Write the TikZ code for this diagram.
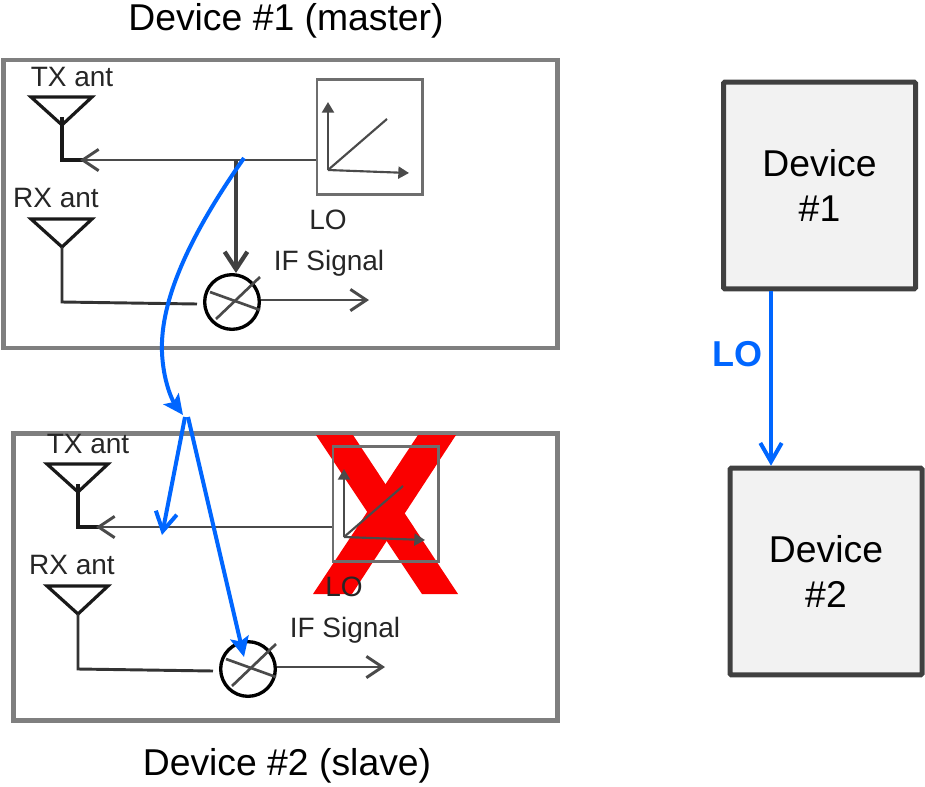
\documentclass[tikz,border=0pt]{standalone}
\usepackage{fontspec}
\setmainfont{Liberation Sans}
\usetikzlibrary{arrows.meta,calc}
\definecolor{framegray}{HTML}{7F7F7F}
\definecolor{wiregray}{HTML}{4A4A4A}
\definecolor{logray}{HTML}{6E6E6E}
\definecolor{boxfill}{HTML}{F2F2F2}
\definecolor{boxline}{HTML}{404040}
\definecolor{loblue}{HTML}{0066FF}
\definecolor{crossred}{HTML}{FA0000}
\tikzset{
  frame/.style={draw=framegray,line width=3.6pt},
  devbox/.style={draw=boxline,fill=boxfill,line width=3.75pt,rounded corners=1pt,minimum width=144pt,minimum height=155pt,inner sep=0pt,align=center,font=\fontsize{28}{34}\selectfont},
  biglabel/.style={inner sep=0pt,font=\fontsize{28}{34}\selectfont},
  smalllabel/.style={inner sep=0pt,text=black!85,font=\fontsize{21}{25}\selectfont},
  antenna/.style={draw=black!90,line width=2.4pt,line join=miter},
  wire/.style={draw=wiregray,line width=2.2pt},
  barb/.style={-{Straight Barb[length=12pt,width=16pt,line width=2.2pt]}},
  heavybarb/.style={-{Straight Barb[length=13pt,width=17pt,line width=3.2pt]}},
  loframe/.style={draw=logray,line width=2pt,minimum width=79pt,minimum height=86pt,inner sep=0pt},
  axis/.style={draw=wiregray,line width=1.6pt},
  axtip/.style={-{Triangle[length=8pt,width=9pt]}},
  mixer/.style={circle,draw=black,line width=2.5pt,minimum size=41pt,inner sep=0pt},
  blueline/.style={draw=loblue,line width=3pt},
  bluebarb/.style={-{Straight Barb[length=14pt,width=16pt,line width=3pt]}},
  bluetip/.style={-{Stealth[length=15pt,width=14pt,inset=3pt]}},
}
\newcommand{\rfchain}{%
  \node[smalllabel] (txlabel) at (72,77) {TX ant};
  \node[smalllabel] (rxlabel) at (56,198) {RX ant};
  \node[smalllabel] (lolabel) at (328,220) {LO};
  \node[smalllabel] (iflabel) at (329,263) {IF Signal};
  \node[loframe] (lobox) at (369.5,137) {};
  \node[mixer] (mix) at (232,302) {};
  \coordinate (txapex) at (62,125);
  \coordinate (txfeed) at (62,117);
  \coordinate (rxapex) at (62,247);
  \coordinate (split) at (236,160);
  \coordinate (txtip) at (80,160);
  \coordinate (iftip) at (369,300);
  \coordinate (origin) at (328,170);
  \draw[antenna] (31,97) -- (92,97) -- (txapex) -- cycle;
  \draw[antenna] (31,219) -- (92,219) -- (rxapex) -- cycle;
  \draw[antenna,line width=3pt] (txfeed) -- (txfeed |- txtip) -- ++(24,0);
  \draw[antenna,draw=black!80,line width=2.2pt] (rxapex) -- (rxapex |- mix) -- (197,304);
  \draw[wire,barb] (split -| lobox.west) -- (txtip);
  \draw[wire,barb] (mix.east) ++(0,-2) -- (iftip);
  \draw[axis,axtip] (origin) -- (328,102);
  \draw[axis,axtip] (origin) -- (409,173);
  \draw[axis] (origin) -- (387,119);
  \draw[wire,line width=2pt] (210,292) -- (260,310);
  \draw[wire,line width=2pt] (216,319) -- (260,277);
}
\begin{document}
\begin{tikzpicture}[x=0.75pt,y=-0.75pt]
\useasboundingbox (0,0) rectangle (925,786);
% titles
\node[biglabel] (title1) at (286,21) {Device \#1 (master)};
\node[biglabel] (title2) at (287,766) {Device \#2 (slave)};
% frames
\node[frame,minimum width=416pt,minimum height=216pt,inner sep=0pt] (dev1frame) at (280.5,204) {};
\node[frame,minimum width=408pt,minimum height=215pt,inner sep=0pt] (dev2frame) at (285.5,577) {};
% red cross
\fill[crossred] (316,435) -- (353,435) -- (458,594) -- (422,594) -- cycle;
\fill[crossred] (418,435) -- (456,435) -- (352,594) -- (313,594) -- cycle;
% device circuits
\begin{scope}[name prefix=a-]\rfchain
  \draw[wire,draw=black!75,line width=3.2pt,heavybarb] (split) -- (mix.north -| split);
\end{scope}
\begin{scope}[name prefix=b-,shift={(16,367)}]\rfchain\end{scope}
% blue LO feed
\coordinate (hop) at (183,415);
\coordinate (hopl) at (185,417);
\coordinate (hopr) at (188,417);
\coordinate (txhit) at (162,535);
\coordinate (mixhit) at (244,657);
\draw[blueline,bluetip] ($(a-split)+(8,-2)$) .. controls (190,235) and (160,300) .. (162,352) .. controls (163,380) and (172,400) .. (hop);
\draw[blueline,bluebarb] (hopl) -- (txhit);
\draw[blueline,bluetip] (hopr) -- (mixhit);
% block view
\node[devbox] (dev1) at (819.5,185.5) {Device\\\#1};
\node[devbox] (dev2) at (826,571.5) {Device\\\#2};
\draw[blueline,bluebarb] (dev1.south -| 771,0) -- (dev2.north -| 771,0);
\node[inner sep=0pt,text=loblue,font=\bfseries\fontsize{27}{30}\selectfont] (lolab) at (737,354) {LO};
\end{tikzpicture}
\end{document}
